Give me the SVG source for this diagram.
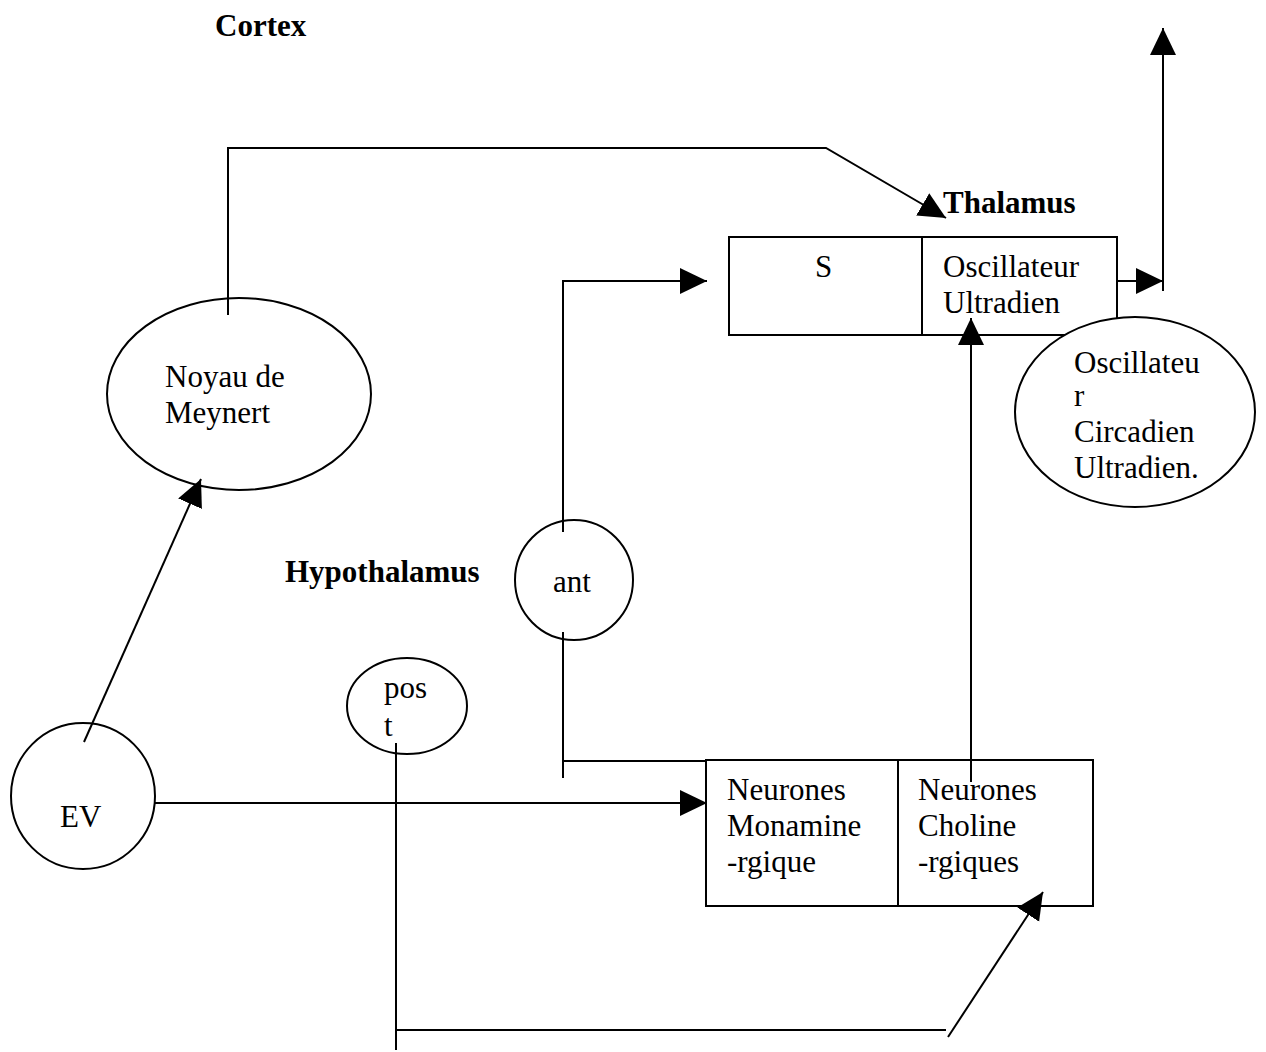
<svg xmlns="http://www.w3.org/2000/svg" width="1266" height="1052" viewBox="0 0 1266 1052">
<style>
.t{font-family:"Liberation Serif","Times New Roman",serif;font-size:31px;fill:#000}
.b{font-family:"Liberation Serif","Times New Roman",serif;font-size:31px;font-weight:bold;fill:#000}
.s{fill:#fff;stroke:#000;stroke-width:2}
.c{fill:none;stroke:#000;stroke-width:2}
</style>
<defs>
<marker id="ah" markerUnits="userSpaceOnUse" markerWidth="28" markerHeight="28" refX="27" refY="13" orient="auto">
<path d="M0,0 L27,13 L0,26 z" fill="#000"/>
</marker>
</defs>
<rect width="1266" height="1052" fill="#fff"/>
<g id="labels">
<text class="b" x="215" y="36">Cortex</text>
<text class="b" x="943" y="213">Thalamus</text>
<text class="b" x="285" y="582">Hypothalamus</text>
</g>
<g id="thalamus">
<rect class="s" x="729" y="237" width="388" height="98"/>
<line class="c" x1="922" y1="237" x2="922" y2="335"/>
<text class="t" x="815" y="277">S</text>
<text class="t" x="943" y="277">Oscillateur</text>
<text class="t" x="943" y="313">Ultradien</text>
</g>
<g id="circadien">
<ellipse class="s" cx="1135" cy="412" rx="120" ry="95"/>
<text class="t" x="1074" y="373">Oscillateu</text>
<text class="t" x="1074" y="406">r</text>
<text class="t" x="1074" y="442">Circadien</text>
<text class="t" x="1074" y="478">Ultradien.</text>
</g>
<g id="meynert">
<ellipse class="s" cx="239" cy="394" rx="132" ry="96"/>
<text class="t" x="165" y="387">Noyau de</text>
<text class="t" x="165" y="423">Meynert</text>
</g>
<g id="ant">
<ellipse class="s" cx="574" cy="580" rx="59" ry="60"/>
<text class="t" x="553" y="592">ant</text>
</g>
<g id="post">
<ellipse class="s" cx="407" cy="706" rx="60" ry="48"/>
<text class="t" x="384" y="698">pos</text>
<text class="t" x="384" y="736">t</text>
</g>
<g id="ev">
<ellipse class="s" cx="83" cy="796" rx="72" ry="73"/>
<text class="t" x="60" y="827">EV</text>
</g>
<g id="neurones">
<rect class="s" x="706" y="760" width="387" height="146"/>
<line class="c" x1="898" y1="760" x2="898" y2="906"/>
<text class="t" x="727" y="800">Neurones</text>
<text class="t" x="727" y="836">Monamine</text>
<text class="t" x="727" y="872">-rgique</text>
<text class="t" x="918" y="800">Neurones</text>
<text class="t" x="918" y="836">Choline</text>
<text class="t" x="918" y="872">-rgiques</text>
</g>
<g id="connectors">
<polyline class="c" points="228,315 228,148 826,148 946,218" marker-end="url(#ah)"/>
<line class="c" x1="1117" y1="281" x2="1163" y2="281" marker-end="url(#ah)"/>
<line class="c" x1="1163" y1="291" x2="1163" y2="28" marker-end="url(#ah)"/>
<polyline class="c" points="563,532 563,281 707,281" marker-end="url(#ah)"/>
<line class="c" x1="563" y1="632" x2="563" y2="778"/>
<line class="c" x1="563" y1="761" x2="706" y2="761"/>
<line class="c" x1="971" y1="782" x2="971" y2="318" marker-end="url(#ah)"/>
<line class="c" x1="84" y1="742" x2="201" y2="479" marker-end="url(#ah)"/>
<line class="c" x1="155" y1="803" x2="707" y2="803" marker-end="url(#ah)"/>
<line class="c" x1="396" y1="743" x2="396" y2="1050"/>
<line class="c" x1="396" y1="1030" x2="946" y2="1030"/>
<line class="c" x1="948" y1="1037" x2="1043" y2="892" marker-end="url(#ah)"/>
</g>
</svg>
